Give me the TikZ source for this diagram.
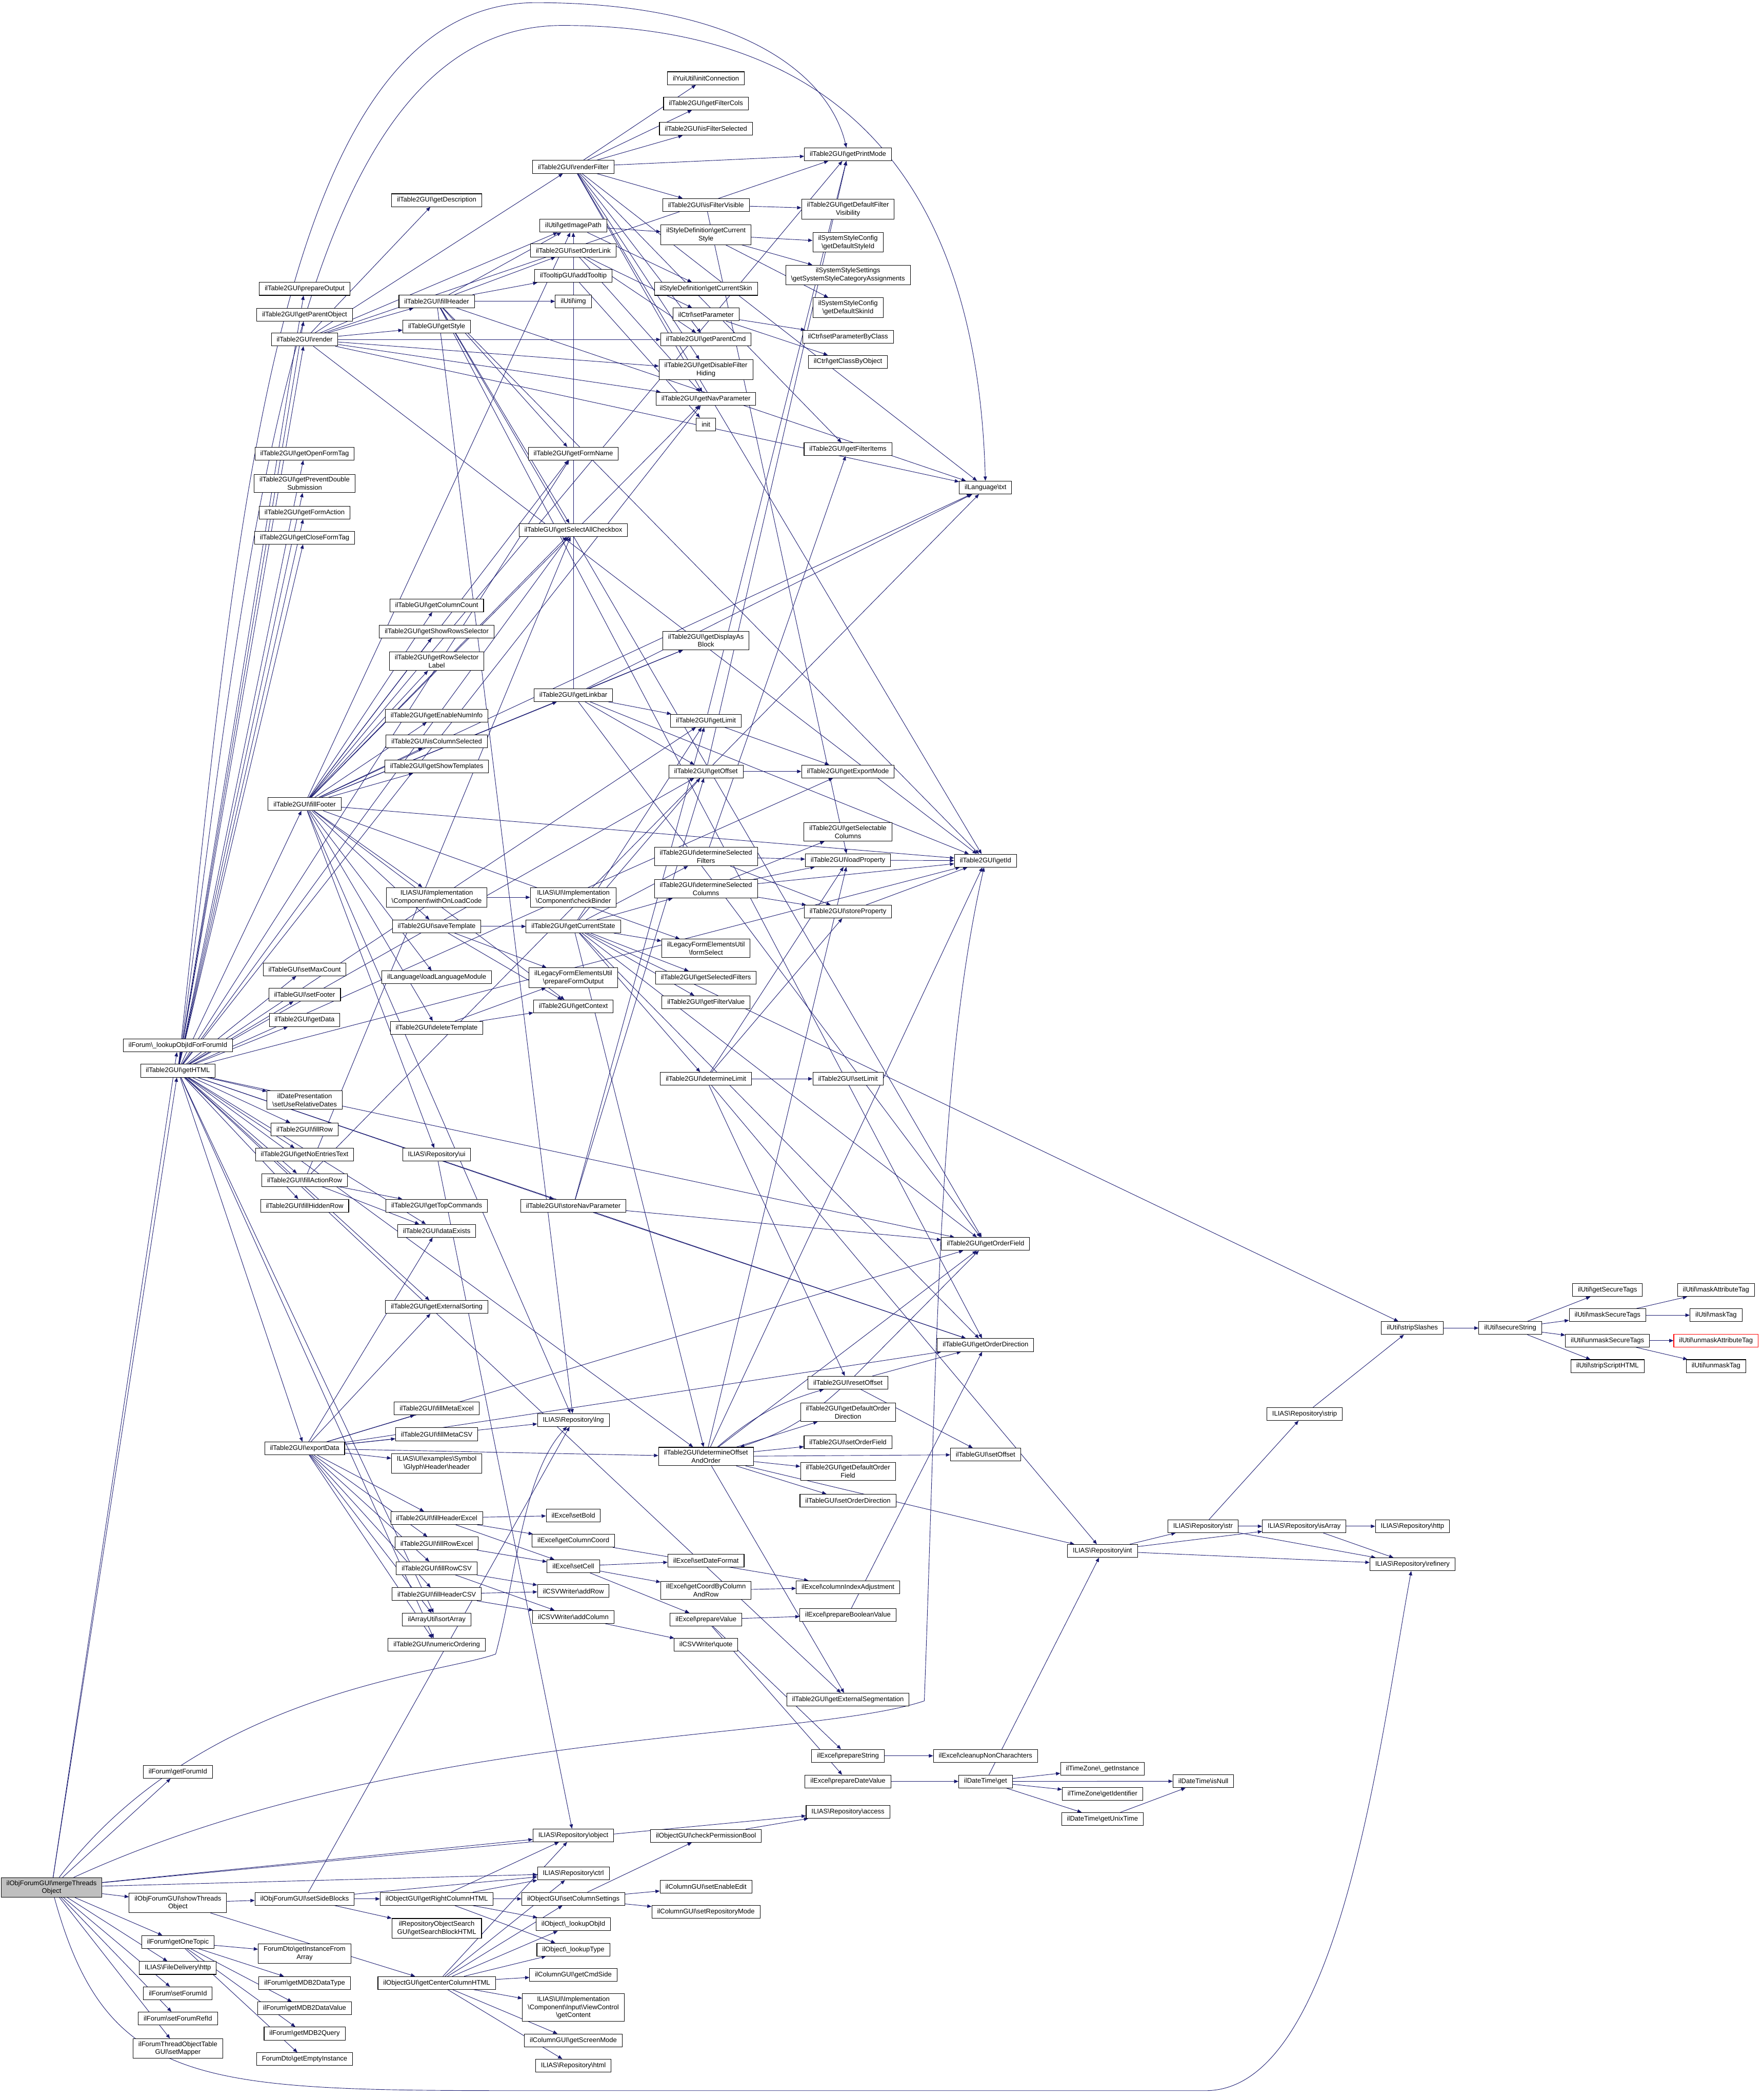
\documentclass[tikz,border=0pt]{standalone}
\usepackage{fontspec}
\setmainfont{Liberation Sans}
\usetikzlibrary{arrows.meta}
\definecolor{edgeblue}{HTML}{191970}
\definecolor{startgray}{HTML}{BFBFBF}
\newcommand\bkslash{\textbackslash}
\pgfdeclarelayer{edges}
\pgfsetlayers{edges,main}

\begin{document}
\begin{tikzpicture}[x=1pt, y=-1pt,
    fn/.style={draw=black, line width=0.4pt, fill=white, font=\fontsize{5}{6}\selectfont,
      inner xsep=4pt, inner ysep=2pt, minimum height=9.6pt, align=center},
    call/.style={draw=edgeblue, line width=0.35pt, -{Triangle[length=3.2pt,width=2.6pt]}}]
    \useasboundingbox (0,0) rectangle (1315,1568);

    % caller and its direct callees
    \node[fn, fill=startgray] (mto) at (38.5,1409.3) {ilObjForumGUI\bkslash mergeThreads\\Object};
    \node[fn] (lookupForum) at (132.8,780.6) {ilForum\bkslash\_lookupObjIdForForumId};
    \node[fn] (gethtml) at (132.8,799.5) {ilTable2GUI\bkslash getHTML};
    \node[fn] (getForumId) at (132.8,1323) {ilForum\bkslash getForumId};
    \node[fn] (showThreads) at (132.8,1420.8) {ilObjForumGUI\bkslash showThreads\\Object};
    \node[fn] (getOneTopic) at (132.8,1450) {ilForum\bkslash getOneTopic};
    \node[fn] (fdHttp) at (132.8,1469.4) {ILIAS\bkslash FileDelivery\bkslash http};
    \node[fn] (setForumId) at (132.8,1488.3) {ilForum\bkslash setForumId};
    \node[fn] (setForumRefId) at (132.8,1507.1) {ilForum\bkslash setForumRefId};
    \node[fn] (setMapper) at (132.8,1529.6) {ilForumThreadObjectTable\\GUI\bkslash setMapper};

    % third column
    \node[fn] (prepOut) at (227.4,215.7) {ilTable2GUI\bkslash prepareOutput};
    \node[fn] (getParObj) at (227.4,235) {ilTable2GUI\bkslash getParentObject};
    \node[fn] (render) at (227.4,253.5) {ilTable2GUI\bkslash render};
    \node[fn] (openForm) at (227.4,338.7) {ilTable2GUI\bkslash getOpenFormTag};
    \node[fn] (prevDouble) at (227.4,361) {ilTable2GUI\bkslash getPreventDouble\\Submission};
    \node[fn] (formAction) at (227.4,382.7) {ilTable2GUI\bkslash getFormAction};
    \node[fn] (closeForm) at (227.4,401.5) {ilTable2GUI\bkslash getCloseFormTag};
    \node[fn] (fillFooter) at (227.4,600.4) {ilTable2GUI\bkslash fillFooter};
    \node[fn] (setMaxCount) at (227.4,723.8) {ilTableGUI\bkslash setMaxCount};
    \node[fn] (setFooter) at (227.4,742.7) {ilTableGUI\bkslash setFooter};
    \node[fn] (getData) at (227.4,761.6) {ilTable2GUI\bkslash getData};
    \node[fn] (relDates) at (227.4,821.4) {ilDatePresentation\\\bkslash setUseRelativeDates};
    \node[fn] (fillRow) at (227.4,843.3) {ilTable2GUI\bkslash fillRow};
    \node[fn] (noEntries) at (227.4,862.2) {ilTable2GUI\bkslash getNoEntriesText};
    \node[fn] (fillActionRow) at (227.4,881.1) {ilTable2GUI\bkslash fillActionRow};
    \node[fn] (fillHiddenRow) at (227.4,900.3) {ilTable2GUI\bkslash fillHiddenRow};
    \node[fn] (exportData) at (227.4,1081.5) {ilTable2GUI\bkslash exportData};
    \node[fn] (setSideBlocks) at (227.4,1417.8) {ilObjForumGUI\bkslash setSideBlocks};
    \node[fn] (instArray) at (227.4,1458.6) {ForumDto\bkslash getInstanceFrom\\Array};
    \node[fn] (mdbType) at (227.4,1480.6) {ilForum\bkslash getMDB2DataType};
    \node[fn] (mdbValue) at (227.4,1499.6) {ilForum\bkslash getMDB2DataValue};
    \node[fn] (mdbQuery) at (227.4,1518.4) {ilForum\bkslash getMDB2Query};
    \node[fn] (emptyInst) at (227.4,1537.5) {ForumDto\bkslash getEmptyInstance};

    % fourth column
    \node[fn] (getDesc) at (326,149.5) {ilTable2GUI\bkslash getDescription};
    \node[fn] (fillHeader) at (326,225) {ilTable2GUI\bkslash fillHeader};
    \node[fn] (getStyle) at (326,244) {ilTableGUI\bkslash getStyle};
    \node[fn] (colCount) at (326,452) {ilTableGUI\bkslash getColumnCount};
    \node[fn] (showRows) at (326,471.5) {ilTable2GUI\bkslash getShowRowsSelector};
    \node[fn] (rowSelLabel) at (326,493.7) {ilTable2GUI\bkslash getRowSelector\\Label};
    \node[fn] (enableNum) at (326,534.3) {ilTable2GUI\bkslash getEnableNumInfo};
    \node[fn] (isColSel) at (326,553.5) {ilTable2GUI\bkslash isColumnSelected};
    \node[fn] (showTpl) at (326,572.4) {ilTable2GUI\bkslash getShowTemplates};
    \node[fn] (onLoad) at (326,670) {ILIAS\bkslash UI\bkslash Implementation\\\bkslash Component\bkslash withOnLoadCode};
    \node[fn] (saveTpl) at (326,691.7) {ilTable2GUI\bkslash saveTemplate};
    \node[fn] (loadLang) at (326,729.8) {ilLanguage\bkslash loadLanguageModule};
    \node[fn] (deleteTpl) at (326,767.4) {ilTable2GUI\bkslash deleteTemplate};
    \node[fn] (repoUi) at (326,862.2) {ILIAS\bkslash Repository\bkslash ui};
    \node[fn] (topCmds) at (326,900.3) {ilTable2GUI\bkslash getTopCommands};
    \node[fn] (dataExists) at (326,919) {ilTable2GUI\bkslash dataExists};
    \node[fn] (extSort) at (326,975.9) {ilTable2GUI\bkslash getExternalSorting};
    \node[fn] (metaExcel) at (326,1051.6) {ilTable2GUI\bkslash fillMetaExcel};
    \node[fn] (metaCSV) at (326,1070.9) {ilTable2GUI\bkslash fillMetaCSV};
    \node[fn] (glyphHeader) at (326,1092.7) {ILIAS\bkslash UI\bkslash examples\bkslash Symbol\\\bkslash Glyph\bkslash Header\bkslash header};
    \node[fn] (hdrExcel) at (326,1133.5) {ilTable2GUI\bkslash fillHeaderExcel};
    \node[fn] (rowExcel) at (326,1152.4) {ilTable2GUI\bkslash fillRowExcel};
    \node[fn] (rowCSV) at (326,1171) {ilTable2GUI\bkslash fillRowCSV};
    \node[fn] (hdrCSV) at (326,1190.3) {ilTable2GUI\bkslash fillHeaderCSV};
    \node[fn] (sortArray) at (326,1209.3) {ilArrayUtil\bkslash sortArray};
    \node[fn] (numOrder) at (326,1228.2) {ilTable2GUI\bkslash numericOrdering};
    \node[fn] (rightCol) at (326,1417.8) {ilObjectGUI\bkslash getRightColumnHTML};
    \node[fn] (searchBlock) at (326,1439.8) {ilRepositoryObjectSearch\\GUI\bkslash getSearchBlockHTML};
    \node[fn] (centerCol) at (326,1480.6) {ilObjectGUI\bkslash getCenterColumnHTML};

    % fifth column
    \node[fn] (renderFilter) at (428,124.6) {ilTable2GUI\bkslash renderFilter};
    \node[fn] (imgPath) at (428,168.6) {ilUtil\bkslash getImagePath};
    \node[fn] (setOrderLink) at (428,187) {ilTable2GUI\bkslash setOrderLink};
    \node[fn] (addTooltip) at (428,206) {ilTooltipGUI\bkslash addTooltip};
    \node[fn] (img) at (428,225) {ilUtil\bkslash img};
    \node[fn] (formName) at (428,338.7) {ilTable2GUI\bkslash getFormName};
    \node[fn] (selAll) at (428,395.8) {ilTableGUI\bkslash getSelectAllCheckbox};
    \node[fn] (linkbar) at (428,519) {ilTable2GUI\bkslash getLinkbar};
    \node[fn] (checkBinder) at (428,670) {ILIAS\bkslash UI\bkslash Implementation\\\bkslash Component\bkslash checkBinder};
    \node[fn] (curState) at (428,691.7) {ilTable2GUI\bkslash getCurrentState};
    \node[fn] (prepFormOut) at (428,730) {ilLegacyFormElementsUtil\\\bkslash prepareFormOutput};
    \node[fn] (getContext) at (428,751.5) {ilTable2GUI\bkslash getContext};
    \node[fn] (storeNav) at (428,900.3) {ilTable2GUI\bkslash storeNavParameter};
    \node[fn] (repoLng) at (428,1060.3) {ILIAS\bkslash Repository\bkslash lng};
    \node[fn] (setBold) at (428,1131.5) {ilExcel\bkslash setBold};
    \node[fn] (colCoord) at (428,1150.4) {ilExcel\bkslash getColumnCoord};
    \node[fn] (setCell) at (428,1169.4) {ilExcel\bkslash setCell};
    \node[fn] (addRow) at (428,1188) {ilCSVWriter\bkslash addRow};
    \node[fn] (addColumn) at (428,1207.3) {ilCSVWriter\bkslash addColumn};
    \node[fn] (repoObject) at (428,1370.4) {ILIAS\bkslash Repository\bkslash object};
    \node[fn] (repoCtrl) at (428,1398.9) {ILIAS\bkslash Repository\bkslash ctrl};
    \node[fn] (setColSet) at (428,1417.8) {ilObjectGUI\bkslash setColumnSettings};
    \node[fn] (lookupObjId) at (428,1436.8) {ilObject\bkslash\_lookupObjId};
    \node[fn] (lookupType) at (428,1455.7) {ilObject\bkslash\_lookupType};
    \node[fn] (cmdSide) at (428,1474.5) {ilColumnGUI\bkslash getCmdSide};
    \node[fn] (viewCtrl) at (428,1499) {ILIAS\bkslash UI\bkslash Implementation\\\bkslash Component\bkslash Input\bkslash ViewControl\\\bkslash getContent};
    \node[fn] (screenMode) at (428,1523.5) {ilColumnGUI\bkslash getScreenMode};
    \node[fn] (repoHtml) at (428,1542.3) {ILIAS\bkslash Repository\bkslash html};

    % sixth column
    \node[fn] (initConn) at (527,58.4) {ilYuiUtil\bkslash initConnection};
    \node[fn] (filterCols) at (527,77.2) {ilTable2GUI\bkslash getFilterCols};
    \node[fn] (filterSel) at (527,96.2) {ilTable2GUI\bkslash isFilterSelected};
    \node[fn] (filterVis) at (527,153) {ilTable2GUI\bkslash isFilterVisible};
    \node[fn] (curStyle) at (527,175.3) {ilStyleDefinition\bkslash getCurrent\\Style};
    \node[fn] (curSkin) at (527,215.7) {ilStyleDefinition\bkslash getCurrentSkin};
    \node[fn] (setParam) at (527,234.8) {ilCtrl\bkslash setParameter};
    \node[fn] (parentCmd) at (527,253.5) {ilTable2GUI\bkslash getParentCmd};
    \node[fn] (disFilter) at (527,276) {ilTable2GUI\bkslash getDisableFilter\\Hiding};
    \node[fn] (navParam) at (527,297.7) {ilTable2GUI\bkslash getNavParameter};
    \node[fn] (init) at (527,316.8) {init};
    \node[fn] (dispBlock) at (527,478.3) {ilTable2GUI\bkslash getDisplayAs\\Block};
    \node[fn] (getLimit) at (527,538.1) {ilTable2GUI\bkslash getLimit};
    \node[fn] (getOffset) at (527,576) {ilTable2GUI\bkslash getOffset};
    \node[fn] (detSelFilt) at (527,639.6) {ilTable2GUI\bkslash determineSelected\\Filters};
    \node[fn] (detSelCol) at (527,663.7) {ilTable2GUI\bkslash determineSelected\\Columns};
    \node[fn] (formSelect) at (527,708.1) {ilLegacyFormElementsUtil\\\bkslash formSelect};
    \node[fn] (selFilters) at (527,730) {ilTable2GUI\bkslash getSelectedFilters};
    \node[fn] (filterValue) at (527,748.4) {ilTable2GUI\bkslash getFilterValue};
    \node[fn] (detLimit) at (527,805.5) {ilTable2GUI\bkslash determineLimit};
    \node[fn] (doao) at (527,1087.5) {ilTable2GUI\bkslash determineOffset\\AndOrder};
    \node[fn] (setDateFmt) at (527,1165.3) {ilExcel\bkslash setDateFormat};
    \node[fn] (coordByCol) at (527,1187.5) {ilExcel\bkslash getCoordByColumn\\AndRow};
    \node[fn] (prepValue) at (527,1209.3) {ilExcel\bkslash prepareValue};
    \node[fn] (csvQuote) at (527,1228.2) {ilCSVWriter\bkslash quote};
    \node[fn] (checkPerm) at (527,1370.7) {ilObjectGUI\bkslash checkPermissionBool};
    \node[fn] (setEnableEdit) at (527,1408.8) {ilColumnGUI\bkslash setEnableEdit};
    \node[fn] (setRepoMode) at (527,1427.5) {ilColumnGUI\bkslash setRepositoryMode};

    % seventh column
    \node[fn] (printMode) at (633,115.2) {ilTable2GUI\bkslash getPrintMode};
    \node[fn] (defFilterVis) at (633,156.2) {ilTable2GUI\bkslash getDefaultFilter\\Visibility};
    \node[fn] (defStyleId) at (633,181) {ilSystemStyleConfig\\\bkslash getDefaultStyleId};
    \node[fn] (sysStyleCat) at (633,205.3) {ilSystemStyleSettings\\\bkslash getSystemStyleCategoryAssignments};
    \node[fn] (defSkinId) at (633,229.7) {ilSystemStyleConfig\\\bkslash getDefaultSkinId};
    \node[fn] (setParamByClass) at (633,251.4) {ilCtrl\bkslash setParameterByClass};
    \node[fn] (classByObj) at (633,270.1) {ilCtrl\bkslash getClassByObject};
    \node[fn] (filterItems) at (633,335.5) {ilTable2GUI\bkslash getFilterItems};
    \node[fn] (exportMode) at (633,576) {ilTable2GUI\bkslash getExportMode};
    \node[fn] (selectable) at (633,621.2) {ilTable2GUI\bkslash getSelectable\\Columns};
    \node[fn] (loadProp) at (633,642.3) {ilTable2GUI\bkslash loadProperty};
    \node[fn] (storeProp) at (633,680.7) {ilTable2GUI\bkslash storeProperty};
    \node[fn] (setLimit) at (633,805.5) {ilTable2GUI\bkslash setLimit};
    \node[fn] (resetOffset) at (633,1032.4) {ilTable2GUI\bkslash resetOffset};
    \node[fn] (defOrdDir) at (633,1054.5) {ilTable2GUI\bkslash getDefaultOrder\\Direction};
    \node[fn] (setOrdField) at (633,1076.9) {ilTable2GUI\bkslash setOrderField};
    \node[fn] (defOrdField) at (633,1098.7) {ilTable2GUI\bkslash getDefaultOrder\\Field};
    \node[fn] (setOrdDir) at (633,1120.5) {ilTableGUI\bkslash setOrderDirection};
    \node[fn] (colIdxAdj) at (633,1185.1) {ilExcel\bkslash columnIndexAdjustment};
    \node[fn] (prepBool) at (633,1205.8) {ilExcel\bkslash prepareBooleanValue};
    \node[fn] (extSeg) at (633,1269) {ilTable2GUI\bkslash getExternalSegmentation};
    \node[fn] (prepString) at (633,1311) {ilExcel\bkslash prepareString};
    \node[fn] (prepDate) at (633,1330.1) {ilExcel\bkslash prepareDateValue};
    \node[fn] (repoAccess) at (633,1352.8) {ILIAS\bkslash Repository\bkslash access};

    % eighth column
    \node[fn] (txt) at (735.7,364) {ilLanguage\bkslash txt};
    \node[fn] (getId) at (735.7,642.6) {ilTable2GUI\bkslash getId};
    \node[fn] (ordField) at (735.7,928.8) {ilTable2GUI\bkslash getOrderField};
    \node[fn] (ordDir) at (735.7,1004.3) {ilTableGUI\bkslash getOrderDirection};
    \node[fn] (setOffset) at (735.7,1086.1) {ilTableGUI\bkslash setOffset};
    \node[fn] (cleanup) at (735.7,1311) {ilExcel\bkslash cleanupNonCharachters};
    \node[fn] (dtGet) at (735.7,1330.1) {ilDateTime\bkslash get};

    % right part
    \node[fn] (repoInt) at (823,1158) {ILIAS\bkslash Repository\bkslash int};
    \node[fn] (tzInst) at (823,1320.6) {ilTimeZone\bkslash\_getInstance};
    \node[fn] (tzIdent) at (823,1339.3) {ilTimeZone\bkslash getIdentifier};
    \node[fn] (unixTime) at (823,1358.2) {ilDateTime\bkslash getUnixTime};
    \node[fn] (str) at (898,1139.6) {ILIAS\bkslash Repository\bkslash str};
    \node[fn] (isNull) at (898.3,1330) {ilDateTime\bkslash isNull};
    \node[fn] (strip) at (973.9,1055.8) {ILIAS\bkslash Repository\bkslash strip};
    \node[fn] (isArray) at (973.6,1139.6) {ILIAS\bkslash Repository\bkslash isArray};
    \node[fn] (stripSlashes) at (1054.3,991.6) {ilUtil\bkslash stripSlashes};
    \node[fn] (http) at (1054.4,1139.6) {ILIAS\bkslash Repository\bkslash http};
    \node[fn] (refinery) at (1054.4,1168) {ILIAS\bkslash Repository\bkslash refinery};
    \node[fn] (secureString) at (1127.4,991.6) {ilUtil\bkslash secureString};
    \node[fn] (getSecureTags) at (1200,963.2) {ilUtil\bkslash getSecureTags};
    \node[fn] (maskSecure) at (1200,982) {ilUtil\bkslash maskSecureTags};
    \node[fn] (unmaskSecure) at (1200,1001) {ilUtil\bkslash unmaskSecureTags};
    \node[fn] (stripScript) at (1200,1020) {ilUtil\bkslash stripScriptHTML};
    \node[fn] (maskAttr) at (1281,963.2) {ilUtil\bkslash maskAttributeTag};
    \node[fn] (maskTag) at (1281,982) {ilUtil\bkslash maskTag};
    \node[fn, draw=red] (unmaskAttr) at (1281,1001) {ilUtil\bkslash unmaskAttributeTag};
    \node[fn] (unmaskTag) at (1281,1020) {ilUtil\bkslash unmaskTag};

    \begin{pgfonlayer}{edges}
    % calls
    \foreach \t in {lookupForum,gethtml,getForumId,showThreads,getOneTopic,fdHttp,setForumId,setForumRefId,setMapper,repoAccess,repoObject,repoCtrl}
        \draw[call] (mto) -- (\t);
    \draw[call] (mto) .. controls (80,1560) and (150,1561) .. (400,1561) -- (900,1561) .. controls (1000,1561) and (1030,1300) .. (refinery);
    \draw[call] (mto) .. controls (300,1290) and (600,1300) .. (690,1270) .. controls (700,1000) and (700,800) .. (getId);
    \draw[call] (mto) .. controls (150,1262) and (330,1250) .. (370,1235) .. controls (385,1180) and (390,1100) .. (repoLng);
    \foreach \t in {prepOut,getParObj,render,openForm,prevDouble,formAction,closeForm,fillFooter,setMaxCount,setFooter,getData,relDates,fillRow,noEntries,fillActionRow,fillHiddenRow,dataExists,exportData,extSort,sortArray,numOrder,storeNav,doao,extSeg,formName,getId,ordField,ordDir,getOffset,getLimit,navParam,exportMode,selAll}
        \draw[call] (gethtml) -- (\t);
    \draw[call] (gethtml) .. controls (175,420) and (200,2) .. (400,2) .. controls (560,2) and (620,60) .. (printMode);
    \draw[call] (gethtml) .. controls (185,420) and (215,19) .. (420,19) .. controls (640,19) and (730,150) .. (txt);
    \foreach \t in {getDesc,renderFilter,imgPath,fillHeader,getStyle,parentCmd,disFilter,navParam,txt,getId,printMode}
        \draw[call] (render) -- (\t);
    \foreach \t in {initConn,filterCols,filterSel,printMode,txt,getId,filterVis,disFilter,navParam,parentCmd,filterItems}
        \draw[call] (renderFilter) -- (\t);
    \foreach \t in {imgPath,setOrderLink,addTooltip,img,formName,selAll,repoLng,ordField,ordDir,txt,getId}
        \draw[call] (fillHeader) -- (\t);
    \foreach \t in {curStyle,curSkin} \draw[call] (imgPath) -- (\t);
    \foreach \t in {defStyleId,sysStyleCat,defSkinId} \draw[call] (curStyle) -- (\t);
    \foreach \t in {setParam,parentCmd,navParam} \draw[call] (setOrderLink) -- (\t);
    \draw[call] (addTooltip) -- (init);
    \foreach \t in {setParamByClass,classByObj} \draw[call] (setParam) -- (\t);
    \foreach \t in {defFilterVis,loadProp} \draw[call] (filterVis) -- (\t);
    \foreach \t in {colCount,showRows,rowSelLabel,linkbar,enableNum,isColSel,showTpl,onLoad,saveTpl,loadLang,deleteTpl,repoUi,getContext,formSelect,formName,selAll,txt,getId,imgPath,repoLng,printMode,navParam,dispBlock}
        \draw[call] (fillFooter) -- (\t);
    \foreach \t in {imgPath,dispBlock,txt,getId,getLimit,getOffset,ordField}
        \draw[call] (linkbar) -- (\t);
    \draw[call] (onLoad) -- (checkBinder);
    \foreach \t in {curState,getContext,prepFormOut} \draw[call] (saveTpl) -- (\t);
    \foreach \t in {prepFormOut,getContext} \draw[call] (deleteTpl) -- (\t);
    \foreach \t in {doao,detLimit,detSelCol,detSelFilt,ordField,ordDir,getOffset,getLimit,selFilters,filterValue,stripSlashes,formSelect}
        \draw[call] (curState) -- (\t);
    \foreach \t in {exportMode,printMode} \draw[call] (getLimit) -- (\t);
    \foreach \t in {exportMode,printMode} \draw[call] (getOffset) -- (\t);
    \foreach \t in {filterItems,loadProp,storeProp} \draw[call] (detSelFilt) -- (\t);
    \foreach \t in {selectable,loadProp,getId,storeProp} \draw[call] (detSelCol) -- (\t);
    \draw[call] (loadProp) -- (getId);
    \draw[call] (storeProp) -- (getId);
    \foreach \t in {setLimit,loadProp,storeProp,resetOffset,repoInt} \draw[call] (detLimit) -- (\t);
    \foreach \t in {ordField,ordDir,getOffset,getLimit} \draw[call] (storeNav) -- (\t);
    \foreach \t in {defOrdDir,setOrdField,defOrdField,setOrdDir,setOffset,repoInt,extSeg,ordField,loadProp,getId}
        \draw[call] (doao) -- (\t);
    \draw[call] (doao) to[bend left=12] (resetOffset);
    \draw[call] (resetOffset) to[bend left=12] (doao);
    \foreach \t in {ordField,ordDir,setOffset} \draw[call] (resetOffset) -- (\t);
    \foreach \t in {extSort,dataExists,metaExcel,metaCSV,glyphHeader,hdrExcel,rowExcel,rowCSV,hdrCSV,sortArray,numOrder,repoLng,doao,ordField,ordDir}
        \draw[call] (exportData) -- (\t);
    \foreach \t in {setBold,colCoord,setCell} \draw[call] (hdrExcel) -- (\t);
    \draw[call] (rowExcel) -- (setCell);
    \foreach \t in {addRow,addColumn} \draw[call] (rowCSV) -- (\t);
    \foreach \t in {addRow,addColumn} \draw[call] (hdrCSV) -- (\t);
    \draw[call] (addColumn) -- (csvQuote);
    \foreach \t in {setDateFmt,coordByCol,prepValue} \draw[call] (setCell) -- (\t);
    \draw[call] (colCoord) -- (colIdxAdj);
    \draw[call] (coordByCol) -- (colIdxAdj);
    \foreach \t in {prepBool,prepString,prepDate} \draw[call] (prepValue) -- (\t);
    \draw[call] (prepBool) -- (ordDir);
    \draw[call] (prepString) -- (cleanup);
    \draw[call] (prepDate) -- (dtGet);
    \foreach \t in {repoInt,isNull,tzInst,tzIdent,unixTime} \draw[call] (dtGet) -- (\t);
    \draw[call] (unixTime) -- (isNull);
    \foreach \t in {str,isArray,refinery} \draw[call] (repoInt) -- (\t);
    \foreach \t in {isArray,refinery,strip} \draw[call] (str) -- (\t);
    \foreach \t in {http,refinery} \draw[call] (isArray) -- (\t);
    \draw[call] (strip) -- (stripSlashes);
    \draw[call] (stripSlashes) -- (secureString);
    \foreach \t in {getSecureTags,maskSecure,unmaskSecure,stripScript} \draw[call] (secureString) -- (\t);
    \foreach \t in {maskAttr,maskTag} \draw[call] (maskSecure) -- (\t);
    \foreach \t in {unmaskAttr,unmaskTag} \draw[call] (unmaskSecure) -- (\t);
    \foreach \t in {topCmds,dataExists,selAll,txt} \draw[call] (fillActionRow) -- (\t);
    \draw[call] (repoUi) -- (repoObject);
    \foreach \t in {setSideBlocks,centerCol} \draw[call] (showThreads) -- (\t);
    \foreach \t in {rightCol,searchBlock,repoLng,repoCtrl} \draw[call] (setSideBlocks) -- (\t);
    \foreach \t in {setColSet,repoObject,repoCtrl,lookupObjId,lookupType} \draw[call] (rightCol) -- (\t);
    \foreach \t in {repoObject,repoCtrl,setColSet,lookupObjId,lookupType,cmdSide,viewCtrl,screenMode,repoHtml}
        \draw[call] (centerCol) -- (\t);
    \foreach \t in {checkPerm,setEnableEdit,setRepoMode} \draw[call] (setColSet) -- (\t);
    \draw[call] (checkPerm) -- (repoAccess);
    \foreach \t in {instArray,mdbType,mdbValue,mdbQuery,emptyInst} \draw[call] (getOneTopic) -- (\t);
    \end{pgfonlayer}
\end{tikzpicture}
\end{document}
